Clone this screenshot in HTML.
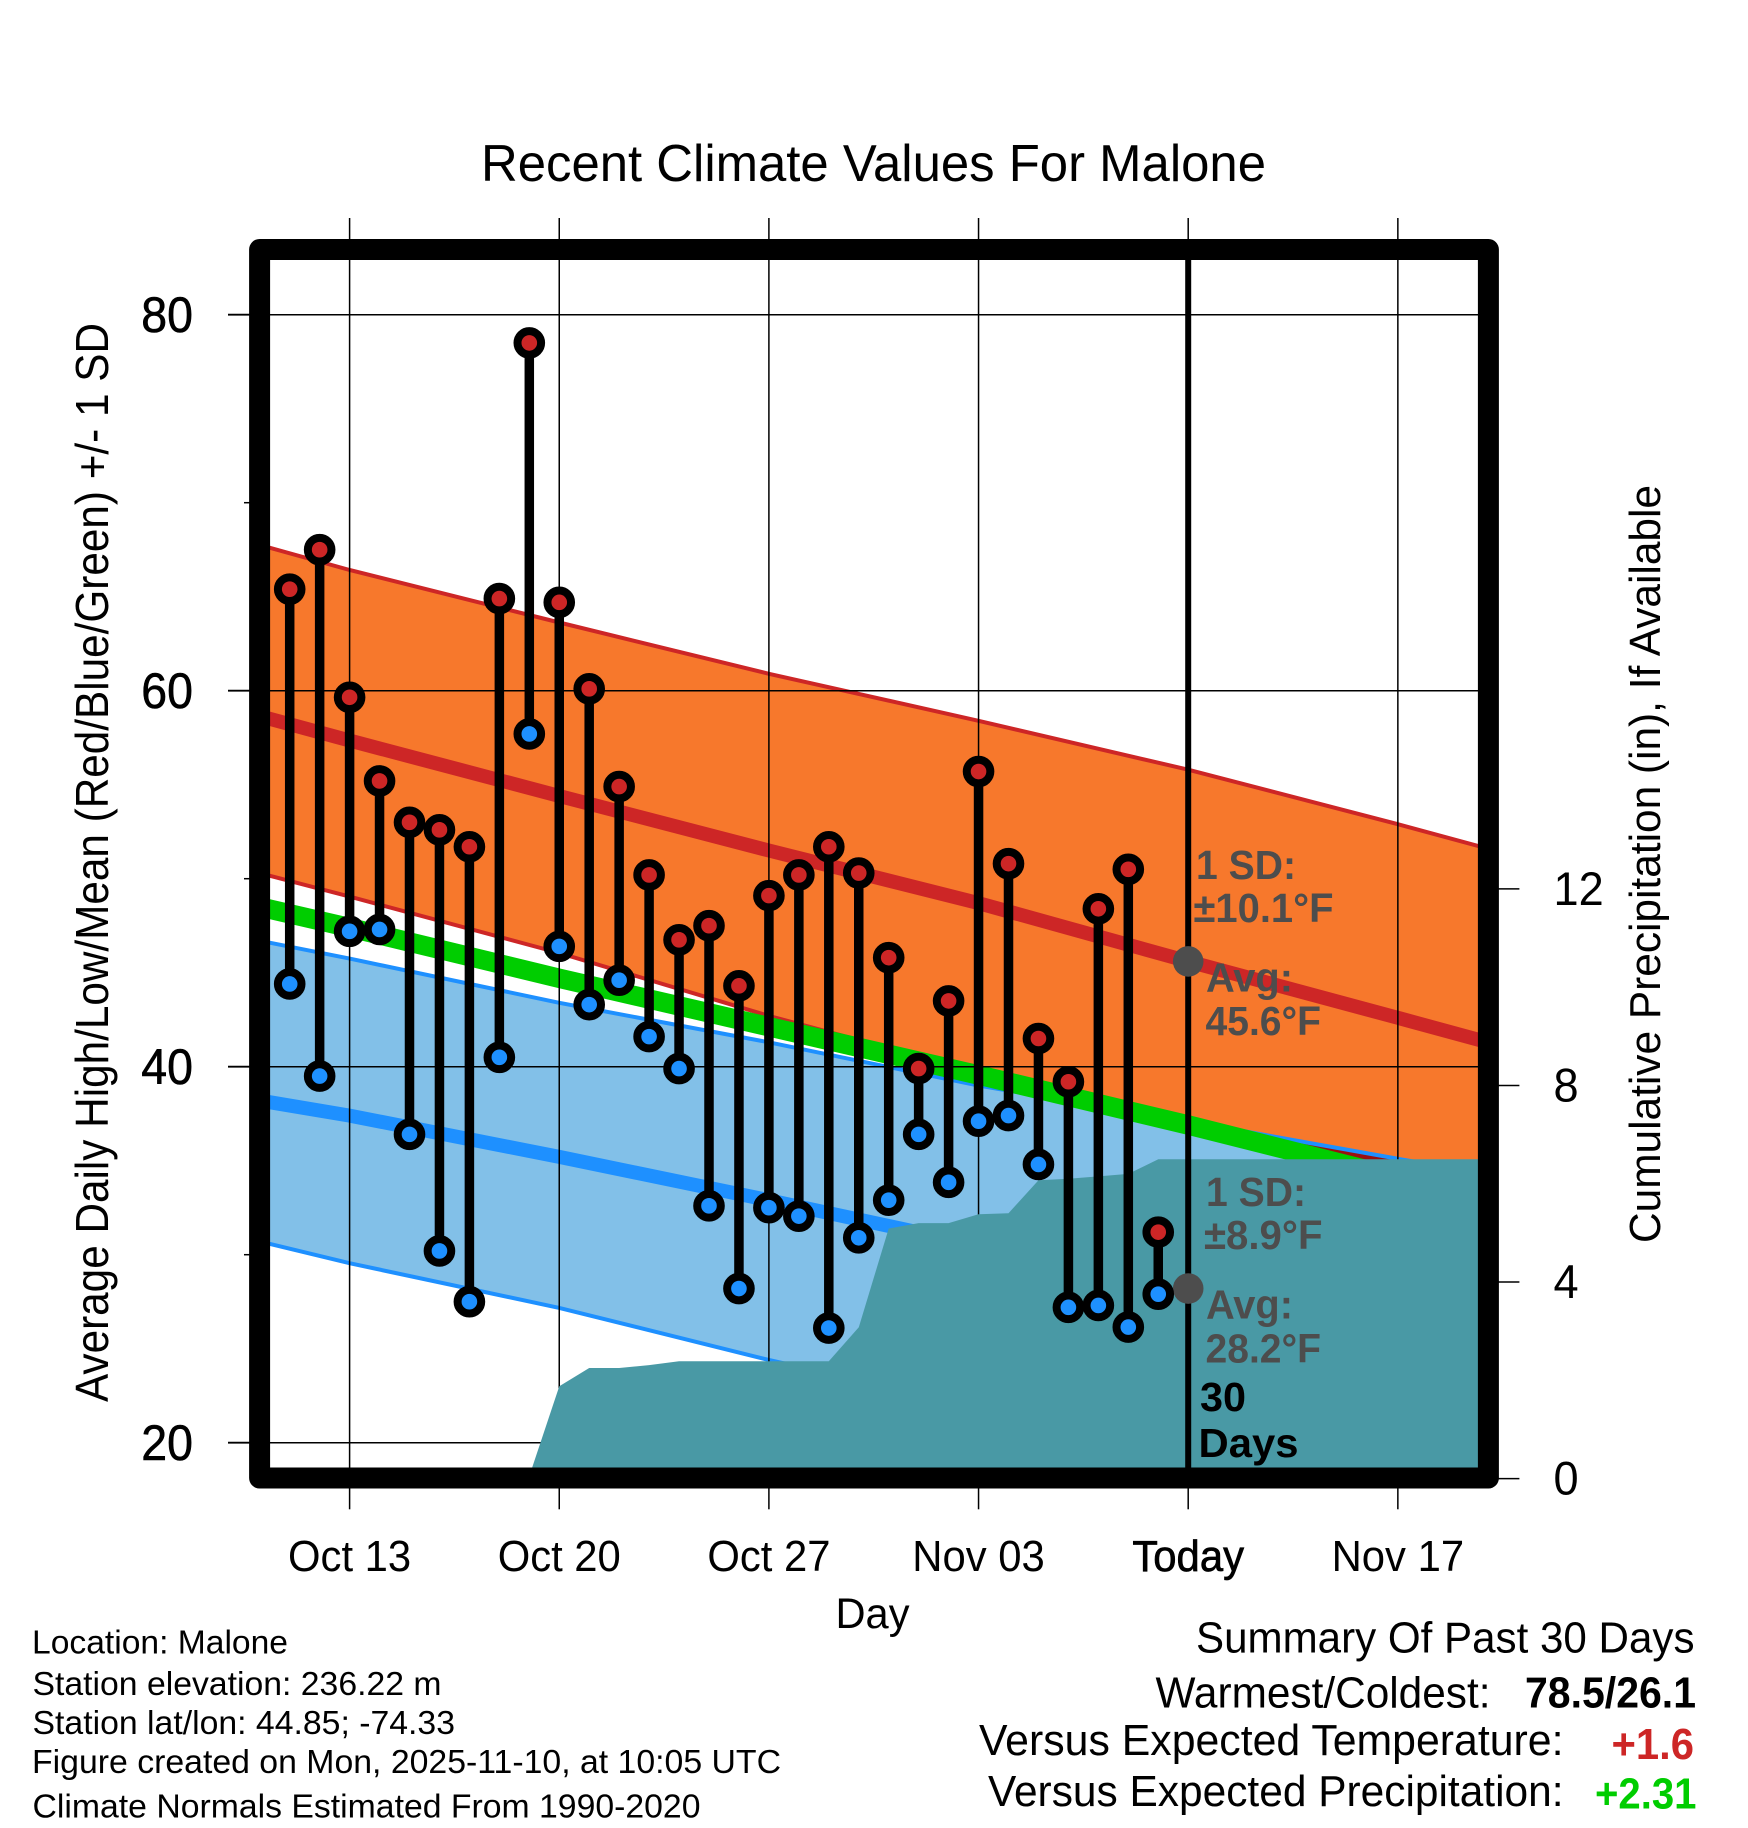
<!DOCTYPE html>
<html lang="en">
<head>
<meta charset="utf-8">
<title>Recent Climate Values For Malone</title>
<style>
html,body{margin:0;padding:0;background:#fff;}
svg{display:block;font-family:"Liberation Sans",sans-serif;}
text{fill:#000;}
.an{font-weight:bold;font-size:41px;fill:#4d4d4d;}
.ft{font-size:33px;}
.sm{font-size:44px;}
</style>
</head>
<body>
<svg id="chart" xmlns="http://www.w3.org/2000/svg" width="1748" height="1828" viewBox="0 0 1748 1828">
  <defs><clipPath id="plot-clip"><rect x="270" y="260" width="1208" height="1208"/></clipPath></defs>
  <rect x="0" y="0" width="1748" height="1828" fill="#fff"/>
  <g id="plot" clip-path="url(#plot-clip)"></g>
  <g id="axes"></g>
  <rect x="259.6" y="249.5" width="1228.8" height="1228.5" fill="none" stroke="#000" stroke-width="21" stroke-linejoin="round"/>

  <text x="481" y="181" font-size="51.5" textLength="785" lengthAdjust="spacingAndGlyphs">Recent Climate Values For Malone</text>
  <text transform="translate(108,1402) rotate(-90)" font-size="46" textLength="1079" lengthAdjust="spacingAndGlyphs">Average Daily High/Low/Mean (Red/Blue/Green) +/- 1 SD</text>
  <text transform="translate(1660,1243) rotate(-90)" font-size="44" textLength="758" lengthAdjust="spacingAndGlyphs">Cumulative Precipitation (in), If Available</text>
  <text x="835.5" y="1628" font-size="43" textLength="74" lengthAdjust="spacingAndGlyphs">Day</text>

  <text class="an" x="1196" y="879" textLength="100" lengthAdjust="spacingAndGlyphs">1 SD:</text>
  <text class="an" x="1193.5" y="922" textLength="140" lengthAdjust="spacingAndGlyphs">±10.1°F</text>
  <text class="an" x="1206" y="991.5" textLength="87" lengthAdjust="spacingAndGlyphs">Avg:</text>
  <text class="an" x="1205.5" y="1035" textLength="115.5" lengthAdjust="spacingAndGlyphs">45.6°F</text>
  <text class="an" x="1206" y="1206" textLength="100" lengthAdjust="spacingAndGlyphs">1 SD:</text>
  <text class="an" x="1204" y="1249" textLength="118.5" lengthAdjust="spacingAndGlyphs">±8.9°F</text>
  <text class="an" x="1206" y="1318.7" textLength="87" lengthAdjust="spacingAndGlyphs">Avg:</text>
  <text class="an" x="1205.5" y="1362.3" textLength="115.5" lengthAdjust="spacingAndGlyphs">28.2°F</text>
  <text class="an" style="fill:#000" x="1200" y="1410.8" textLength="46" lengthAdjust="spacingAndGlyphs">30</text>
  <text class="an" style="fill:#000" x="1198.5" y="1456.8" textLength="100" lengthAdjust="spacingAndGlyphs">Days</text>

  <text class="ft" x="32" y="1653.3" textLength="256" lengthAdjust="spacingAndGlyphs">Location: Malone</text>
  <text class="ft" x="32.5" y="1695" textLength="409" lengthAdjust="spacingAndGlyphs">Station elevation: 236.22 m</text>
  <text class="ft" x="32.5" y="1734" textLength="422.5" lengthAdjust="spacingAndGlyphs">Station lat/lon: 44.85; -74.33</text>
  <text class="ft" x="32" y="1773" textLength="749" lengthAdjust="spacingAndGlyphs">Figure created on Mon, 2025-11-10, at 10:05 UTC</text>
  <text class="ft" x="32.5" y="1817.7" textLength="668" lengthAdjust="spacingAndGlyphs">Climate Normals Estimated From 1990-2020</text>

  <text class="sm" x="1196" y="1652.7" textLength="498.5" lengthAdjust="spacingAndGlyphs">Summary Of Past 30 Days</text>
  <text class="sm" x="1155.5" y="1707.3" textLength="335" lengthAdjust="spacingAndGlyphs">Warmest/Coldest:</text>
  <text class="sm" font-weight="bold" x="1525" y="1707.3" textLength="171" lengthAdjust="spacingAndGlyphs">78.5/26.1</text>
  <text class="sm" x="979" y="1755" textLength="584.5" lengthAdjust="spacingAndGlyphs">Versus Expected Temperature:</text>
  <text class="sm" font-weight="bold" style="fill:#cd2626" x="1611.5" y="1759" textLength="82.5" lengthAdjust="spacingAndGlyphs">+1.6</text>
  <text class="sm" x="988" y="1806" textLength="575.5" lengthAdjust="spacingAndGlyphs">Versus Expected Precipitation:</text>
  <text class="sm" font-weight="bold" style="fill:#00cd00" x="1595" y="1808.7" textLength="101.5" lengthAdjust="spacingAndGlyphs">+2.31</text>
</svg>

<script>
// Observed daily values, Oct 11 to Nov 9 (first entry is 2 days before Oct 13)
const firstObservedDay = -2;
const dailyHigh = [65.4,67.5,59.65,55.2,53.0,52.6,51.7,64.9,78.5,64.7,60.1,54.9,50.2,46.75,47.5,44.3,49.1,50.2,51.7,50.3,45.8,39.9,43.5,55.7,50.8,41.5,39.2,48.4,50.5,31.2];
const dailyLow = [44.4,39.5,47.2,47.3,36.4,30.2,27.5,40.5,57.7,46.4,43.3,44.6,41.6,39.9,32.6,28.2,32.5,32.05,26.1,30.9,32.9,36.4,33.85,37.1,37.4,34.8,27.2,27.3,26.15,27.9];

// Climate normals, read at days relative to Oct 13
const normalDays = [-3,0,7,14,21,28,35,38];
const highPlusSd = [67.75,66.42,63.63,60.9,58.4,55.8,52.9,51.6];
const highMean = [58.65,57.35,54.4,51.5,48.7,45.6,42.6,41.3];
const highMinusSd = [50.3,49.05,46.05,42.7,39.7,37.0,34.5,33.4];
const meanNormal = [48.5,47.4,44.7,42.13,39.56,36.9,34.1,33.0];
const lowPlusSd = [46.7,45.75,43.4,41.3,39.0,37.1,35.1,34.3];
const lowMean = [38.2,37.4,35.2,32.9,30.5,28.2,25.9,24.9];
const lowMinusSd = [30.7,29.55,27.17,24.4,21.9,19.4,16.9,15.8];

// Cumulative precipitation (in), Oct 19 onward, then held flat to Nov 20
const firstPrecipDay = 6;
const lastPrecipDay = 38;
const cumulativePrecip = [0.05,1.88,2.25,2.25,2.31,2.39,2.39,2.39,2.39,2.39,2.39,3.08,5.09,5.2,5.2,5.38,5.4,6.07,6.1,6.15,6.2,6.5];

// Today's reference averages
const todayDay = 28;
const todayAverages = [45.6,28.2];

// Axis ticks
const xTickDays = [0,7,14,21,28,35];
const xTickLabels = ["Oct 13","Oct 20","Oct 27","Nov 03","Today","Nov 17"];
const yMajorTicks = [80,60,40,20];
const yMinorTicks = [70,50,30];
const yTickLabels = ["80","60","40","20"];
const y2Ticks = [0,4,8,12];
const y2TickLabels = ["0","4","8","12"];

// Axis functions
function xScale(day){ return 349.6 + 29.95 * day; }
function yScale(temp){ return 314.7 + (80 - temp) * 18.8; }
function y2Scale(inches){ return 1478.6 - 49.14 * inches; }

const NS = "http://www.w3.org/2000/svg";
const plot = document.getElementById("plot");
const axes = document.getElementById("axes");
function mk(parent, tag, attrs){
  const el = document.createElementNS(NS, tag);
  for (const k in attrs) el.setAttribute(k, attrs[k]);
  parent.appendChild(el);
  return el;
}
function squeeze(t, factor){
  t.setAttribute("textLength", (t.getComputedTextLength()*factor).toFixed(1));
  t.setAttribute("lengthAdjust", "spacingAndGlyphs");
}
function linePts(values){
  return normalDays.map(function(d,i){ return xScale(d).toFixed(1)+","+yScale(values[i]).toFixed(1); });
}
function bandPts(top,bottom){
  return linePts(top).concat(linePts(bottom).reverse()).join(" ");
}
function interp(values, day){
  for (let i=0;i<normalDays.length-1;i++){
    if (day<=normalDays[i+1]){
      const t=(day-normalDays[i])/(normalDays[i+1]-normalDays[i]);
      return values[i]+t*(values[i+1]-values[i]);
    }
  }
  return values[values.length-1];
}

let el;
// Bands
el = mk(plot,"polygon",{points:bandPts(highPlusSd,highMinusSd),fill:"#f7782c"});


el = mk(plot,"polyline",{points:linePts(highPlusSd).join(" "),fill:"none",stroke:"#cd2626","stroke-width":4});


el = mk(plot,"polyline",{points:linePts(highMinusSd).join(" "),fill:"none",stroke:"#cd2626","stroke-width":4});


el = mk(plot,"polygon",{points:bandPts(lowPlusSd,lowMinusSd),fill:"#82c0e8"});



// Overlap sliver where the low band rises above the mean normal
const overlapDays = [30.6,32,34,36,38];
const overlapTop = overlapDays.map(function(d){ return xScale(d).toFixed(1)+","+yScale(interp(lowPlusSd,d)).toFixed(1); });
const overlapBottom = overlapDays.map(function(d){ return xScale(d).toFixed(1)+","+yScale(interp(meanNormal,d)).toFixed(1); }).reverse();
el = mk(plot,"polygon",{points:overlapTop.concat(overlapBottom).join(" "),fill:"#9a1010"});



el = mk(plot,"polyline",{points:linePts(lowPlusSd).join(" "),fill:"none",stroke:"#1e90ff","stroke-width":4});


el = mk(plot,"polyline",{points:linePts(lowMinusSd).join(" "),fill:"none",stroke:"#1e90ff","stroke-width":4});



// Mean lines
el = mk(plot,"polyline",{points:linePts(highMean).join(" "),fill:"none",stroke:"#cd2626","stroke-width":14});


el = mk(plot,"polyline",{points:linePts(lowMean).join(" "),fill:"none",stroke:"#1e90ff","stroke-width":14});


el = mk(plot,"polyline",{points:linePts(meanNormal).join(" "),fill:"none",stroke:"#00cd00","stroke-width":19.5});



// Gridlines inside the plot
yMajorTicks.forEach(function(t){
  const g = mk(plot,"line",{x1:270,x2:1478,y1:yScale(t),y2:yScale(t),stroke:"#000","stroke-width":1.5});
  
  
});
xTickDays.forEach(function(d){
  const g = mk(plot,"line",{x1:xScale(d),x2:xScale(d),y1:260,y2:1468,stroke:"#000","stroke-width":1.5});
  
  
});

// Precipitation area
const precipPts = [xScale(firstPrecipDay).toFixed(1)+","+y2Scale(0).toFixed(1)];
cumulativePrecip.forEach(function(v,i){
  precipPts.push(xScale(firstPrecipDay+i).toFixed(1)+","+y2Scale(v).toFixed(1));
});
const lastPrecip = cumulativePrecip[cumulativePrecip.length-1];
precipPts.push(xScale(lastPrecipDay).toFixed(1)+","+y2Scale(lastPrecip).toFixed(1));
precipPts.push(xScale(lastPrecipDay).toFixed(1)+","+y2Scale(0).toFixed(1));
el = mk(plot,"polygon",{points:precipPts.join(" "),fill:"#4999a5"});



// Today marker line
el = mk(plot,"line",{x1:xScale(todayDay),x2:xScale(todayDay),y1:260,y2:1468,stroke:"#000","stroke-width":6});



// Today's averages
todayAverages.forEach(function(v){
  const c = mk(plot,"circle",{cx:xScale(todayDay),cy:yScale(v),r:15.3,fill:"#4d4d4d"});
  
  
});

// Observed stems and markers
dailyHigh.forEach(function(h,i){
  const d = firstObservedDay+i;
  const s = mk(plot,"line",{x1:xScale(d),x2:xScale(d),y1:yScale(h),y2:yScale(dailyLow[i]),stroke:"#000","stroke-width":9.5});
  
  
});
dailyHigh.forEach(function(h,i){
  const d = firstObservedDay+i;
  const hi = mk(plot,"circle",{cx:xScale(d),cy:yScale(h),r:11.8,fill:"#cd2626",stroke:"#000","stroke-width":8});
  
  
  const lo = mk(plot,"circle",{cx:xScale(d),cy:yScale(dailyLow[i]),r:11.8,fill:"#1e90ff",stroke:"#000","stroke-width":8});
  
  
});

// Axis ticks and labels
xTickDays.forEach(function(d,i){
  const top = mk(axes,"line",{x1:xScale(d),x2:xScale(d),y1:218,y2:260,stroke:"#000","stroke-width":1.5});
  
  
  const bot = mk(axes,"line",{x1:xScale(d),x2:xScale(d),y1:1468,y2:1509.3,stroke:"#000","stroke-width":1.5});
  
  
  const t = mk(axes,"text",{x:xScale(d),y:1571,"text-anchor":"middle","font-size":44});
  t.textContent = xTickLabels[i];
  squeeze(t, 0.95);
  if (d===todayDay){ t.setAttribute("stroke","#000"); t.setAttribute("stroke-width","0.7"); }
  
  
});
yMajorTicks.forEach(function(v,i){
  const k = mk(axes,"line",{x1:228,x2:260,y1:yScale(v),y2:yScale(v),stroke:"#000","stroke-width":1.8});
  
  
  const t = mk(axes,"text",{x:193,y:yScale(v)+17.5,"text-anchor":"end","font-size":50,stroke:"#000","stroke-width":0.6});
  t.textContent = yTickLabels[i];
  squeeze(t, 0.93);
  
  
});
yMinorTicks.forEach(function(v){
  const k = mk(axes,"line",{x1:244,x2:260,y1:yScale(v),y2:yScale(v),stroke:"#000","stroke-width":1.5});
  
  
});
y2Ticks.forEach(function(v,i){
  const k = mk(axes,"line",{x1:1490,x2:1519.4,y1:y2Scale(v),y2:y2Scale(v),stroke:"#000","stroke-width":1.5});
  
  
  const t = mk(axes,"text",{x:1553.5,y:y2Scale(v)+16,"font-size":47});
  t.textContent = y2TickLabels[i];
  squeeze(t, 0.96);
  
  
});
</script>
</body>
</html>
